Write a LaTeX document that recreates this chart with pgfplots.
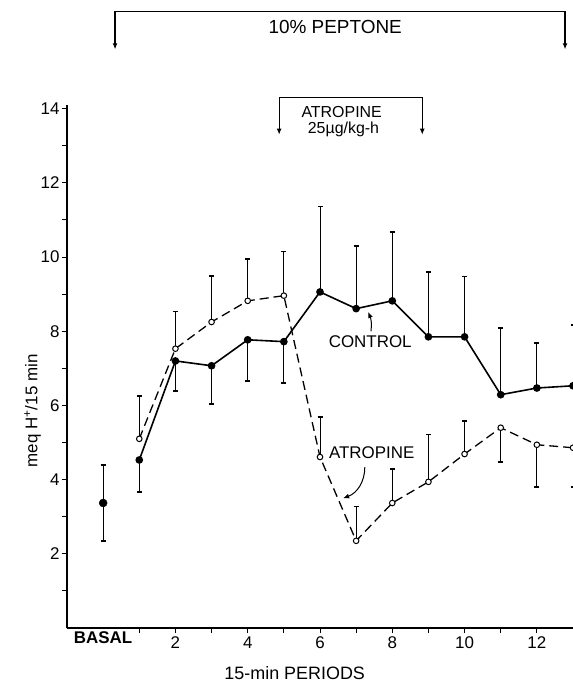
\documentclass[border=0pt]{standalone}
\usepackage{pgfplots}
\pgfplotsset{compat=1.18}
\usetikzlibrary{arrows.meta}
\usepackage{fontspec}
\setmainfont{Liberation Sans}
\begin{document}
\begin{tikzpicture}
\begin{axis}[
  at={(0,0)}, anchor=south west,
  scale only axis, width=506bp, height=523bp,
  xmin=-1, xmax=13, ymin=0, ymax=14.1,
  axis lines*=left,
  axis line style={line width=1.5bp, black},
  clip=false,
  xtick={1,...,13}, xticklabels={,2,,4,,6,,8,,10,,12,},
  extra x ticks={0}, extra x tick labels={\bfseries BASAL},
  extra x tick style={major tick length=0pt},
  ytick={1,...,14}, yticklabels={,2,,4,,6,,8,,10,,12,,14},
  tick align=outside, major tick length=5bp,
  tick style={line width=1bp, black},
  tick label style={font=\fontsize{17}{17}\selectfont},
  yticklabel style={xshift=1bp},
  /pgf/number format/assume math mode=true,
  xlabel={15-min PERIODS},
  ylabel={meq H\textsuperscript{+}/15 min},
  xlabel style={at={(axis description cs:0.45,-0.086)}, anchor=center, font=\fontsize{18}{18}\selectfont},
  ylabel style={at={(axis description cs:-0.068,0.415)}, anchor=center, font=\fontsize{17}{17}\selectfont},
  error bars/error bar style={line width=1bp, black, solid},
  error bars/error mark options={rotate=90, mark size=2.5bp, line width=1.5bp, black, solid},
]
% control error bars
\addplot[draw=none, forget plot, error bars/.cd, y dir=both, y explicit]
  coordinates {(0,3.37) +- (0,1.02)};
\addplot[draw=none, forget plot, error bars/.cd, y dir=minus, y explicit]
  coordinates {(1,4.53) +- (0,0.86) (2,7.20) +- (0,0.81) (3,7.07) +- (0,1.03)
               (4,7.77) +- (0,1.11) (5,7.72) +- (0,1.11)};
\addplot[draw=none, forget plot, error bars/.cd, y dir=plus, y explicit]
  coordinates {(6,9.06) +- (0,2.30) (7,8.61) +- (0,1.69) (8,8.82) +- (0,1.86)
               (9,7.85) +- (0,1.75) (10,7.85) +- (0,1.62) (11,6.29) +- (0,1.80)
               (12,6.47) +- (0,1.22) (13,6.53) +- (0,1.64)};
% atropine error bars
\addplot[draw=none, forget plot, error bars/.cd, y dir=plus, y explicit]
  coordinates {(1,5.10) +- (0,1.16) (2,7.53) +- (0,1.00) (3,8.25) +- (0,1.24)
               (4,8.82) +- (0,1.13) (5,8.96) +- (0,1.19) (6,4.61) +- (0,1.08)
               (7,2.35) +- (0,0.92) (8,3.37) +- (0,0.92) (9,3.94) +- (0,1.27)
               (10,4.69) +- (0,0.89)};
\addplot[draw=none, forget plot, error bars/.cd, y dir=minus, y explicit]
  coordinates {(11,5.40) +- (0,0.92) (12,4.94) +- (0,1.14) (13,4.86) +- (0,1.06)};
% atropine line
\addplot[black, line width=1.3bp, dash pattern=on 9bp off 5bp,
  mark=*, mark size=2.8bp, mark options={solid, fill=white, line width=1bp}]
  coordinates {(1,5.10) (2,7.53) (3,8.25) (4,8.82) (5,8.96) (6,4.61) (7,2.35)
               (8,3.37) (9,3.94) (10,4.69) (11,5.40) (12,4.94) (13,4.86)};
% control line
\addplot[black, line width=1.6bp, mark=*, mark size=3bp, mark options={fill=black}]
  coordinates {(1,4.53) (2,7.20) (3,7.07) (4,7.77) (5,7.72) (6,9.06) (7,8.61)
               (8,8.82) (9,7.85) (10,7.85) (11,6.29) (12,6.47) (13,6.53)};
% basal
\addplot[black, only marks, mark=*, mark size=4bp] coordinates {(0,3.37)};
% annotations
\draw[line width=1.2bp, {Latex[length=6bp,width=5bp]}-{Latex[length=6bp,width=5bp]}]
  (axis cs:0.33,15.6) |- (axis cs:12.78,16.62) -- (axis cs:12.78,15.6);
\node[font=\fontsize{19}{19}\selectfont] at (axis cs:6.42,16.19) {10\% PEPTONE};
\draw[line width=1.2bp, {Latex[length=6bp,width=5bp]}-{Latex[length=6bp,width=5bp]}]
  (axis cs:4.87,13.3) |- (axis cs:8.83,14.3) -- (axis cs:8.83,13.3);
\node[font=\fontsize{16}{16}\selectfont, inner sep=0pt] at (axis cs:6.6,13.92) {ATROPINE};
\node[font=\fontsize{16}{16}\selectfont, inner sep=0pt] at (axis cs:6.65,13.43) {25µg/kg-h};
\node[font=\fontsize{17}{17}\selectfont] at (axis cs:7.39,7.71) {CONTROL};
\draw[line width=1bp, -{Latex[length=6bp,width=5bp]}] (axis cs:7.41,8.0) to[bend right=15] (axis cs:7.33,8.52);
\node[font=\fontsize{17}{17}\selectfont] at (axis cs:7.43,4.72) {ATROPINE};
\draw[line width=1bp, -{Latex[length=6bp,width=5bp]}] (axis cs:7.24,4.34) to[out=-90,in=20] (axis cs:6.64,3.5);
\end{axis}
\pgfresetboundingbox
\path[use as bounding box] (-67bp,-56bp) rectangle (506bp,628bp);
\end{tikzpicture}
\end{document}
